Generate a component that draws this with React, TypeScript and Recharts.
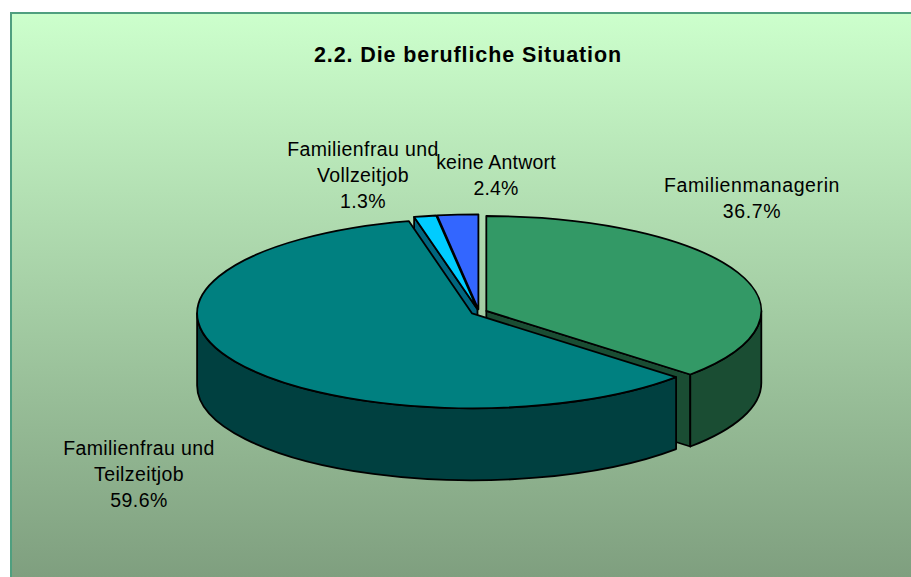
import { PieChart, Pie, Cell } from "recharts"

// clockwise from the cyan slice, so the paint order comes out right
const names = ["Familienfrau und Vollzeitjob", "keine Antwort", "Familienmanagerin", "Familienfrau und Teilzeitjob"]
const values = [1.3, 2.4, 36.7, 59.6]
const topColors = ["#00ccff", "#3366ff", "#339966", "#008080"]
const sideColors = ["#00667f", "#1a337f", "#1a4d33", "#004040"]
const labelLines = [
  ["Familienfrau und", "Vollzeitjob"],
  ["keine Antwort"],
  ["Familienmanagerin"],
  ["Familienfrau und", "Teilzeitjob"],
]

const data = names.map((name, i) => ({ name, value: values[i] }))

const W = 911
const H = 577
const FONT = '"Liberation Sans", Arial, sans-serif'
const SQUASH = 0.345
const DEPTH = 72
const EXPLODE = 8
const LABEL_SPOTS = [
  { x: 363, y: 156 },
  { x: 496, y: 169 },
  { x: 752, y: 192 },
  { x: 139, y: 455 },
]
const LABEL_SPACING = [0.4, 0.2, 0.6, 0.4]

const total = values.reduce((a, b) => a + b, 0)
// the reference pie starts at 12 o'clock with Familienmanagerin
const leadIn = ((values[0] + values[1]) / total) * 360
const startAngle = 90 + leadIn

const rad = (d: number) => (d * Math.PI) / 180

function Slice(props: any) {
  const { cx, cy, outerRadius, startAngle: a0, endAngle: a1, index } = props
  const rx = outerRadius
  const ry = outerRadius * SQUASH
  // angles clockwise from 12 o'clock
  const t0 = 90 - a0
  const t1 = 90 - a1
  const mid = rad((t0 + t1) / 2)
  const ox = cx + Math.sin(mid) * EXPLODE
  const oy = cy - Math.cos(mid) * EXPLODE * SQUASH
  const pt = (t: number, dy = 0) =>
    `${ox + rx * Math.sin(rad(t))} ${oy - ry * Math.cos(rad(t)) + dy}`
  const line = { stroke: "#000", strokeWidth: 1.8, strokeLinejoin: "round" as const }
  const norm = (t: number) => ((t % 360) + 360) % 360
  const s = norm(t0)
  const e = s + (t1 - t0)
  const top = `M${ox} ${oy} L${pt(s)} A${rx} ${ry} 0 ${e - s > 180 ? 1 : 0} 1 ${pt(e)} Z`

  // outer wall, only the part on the near half of the ellipse
  const wa = Math.max(s, 90)
  const wb = Math.min(e, 270)
  const wall =
    wb > wa
      ? `M${pt(wa)} A${rx} ${ry} 0 ${wb - wa > 180 ? 1 : 0} 1 ${pt(wb)} L${pt(wb, DEPTH)} A${rx} ${ry} 0 ${wb - wa > 180 ? 1 : 0} 0 ${pt(wa, DEPTH)} Z`
      : null

  const face = (t: number) =>
    `M${ox} ${oy} L${pt(t)} L${pt(t, DEPTH)} L${ox} ${oy + DEPTH} Z`
  // cut faces that look toward the viewer; the blue one sits behind cyan
  const faces: string[] = []
  if (Math.sin(rad(s)) < -0.01 && Math.cos(rad(s)) > 0 && index !== 1) faces.push(face(s))
  if (Math.sin(rad(e)) > 0.01 && Math.cos(rad(e)) < 0) faces.push(face(e))

  return (
    <g>
      {faces.map((d) => (
        <path key={d} d={d} fill={sideColors[index]} {...line} />
      ))}
      {wall && <path d={wall} fill={sideColors[index]} {...line} />}
      <path d={top} fill={topColors[index]} {...line} />
    </g>
  )
}

function SliceLabel(props: any) {
  const { index, percent } = props
  const spot = LABEL_SPOTS[index]
  const rows = [...labelLines[index], `${(percent * 100).toFixed(1)}%`]
  return (
    <text
      x={spot.x}
      y={spot.y}
      textAnchor="middle"
      fontFamily={FONT}
      fontSize={19.5}
      letterSpacing={LABEL_SPACING[index]}
      fill="#000"
    >
      {rows.map((r, i) => (
        <tspan key={r} x={spot.x} dy={i === 0 ? 0 : 26}>
          {r}
        </tspan>
      ))}
    </text>
  )
}

export default function App() {
  return (
    <div
      style={{
        position: "absolute",
        left: 10,
        top: 12,
        width: 901,
        height: 565,
        overflow: "hidden",
        boxSizing: "border-box",
        borderTop: "2px solid #4f9f7f",
        borderLeft: "2px solid #4f9f7f",
        background: "linear-gradient(180deg, #ccffcc 0%, #7f9f7f 100%)",
      }}
    >
      <div style={{ position: "absolute", left: -12, top: -14 }}>
        <PieChart width={W} height={H}>
          <text
            x={468}
            y={62}
            textAnchor="middle"
            fontFamily={FONT}
            fontSize={21.5}
            fontWeight="bold"
            letterSpacing={0.9}
            fill="#000"
          >
            2.2. Die berufliche Situation
          </text>
          <Pie
            data={data}
            dataKey="value"
            nameKey="name"
            cx={474}
            cy={307}
            innerRadius={0}
            outerRadius={275}
            startAngle={startAngle}
            endAngle={startAngle - 360}
            shape={Slice}
            label={SliceLabel}
            labelLine={false}
            isAnimationActive={false}
          >
            {data.map((d, i) => (
              <Cell key={d.name} fill={topColors[i]} />
            ))}
          </Pie>
        </PieChart>
      </div>
    </div>
  )
}
